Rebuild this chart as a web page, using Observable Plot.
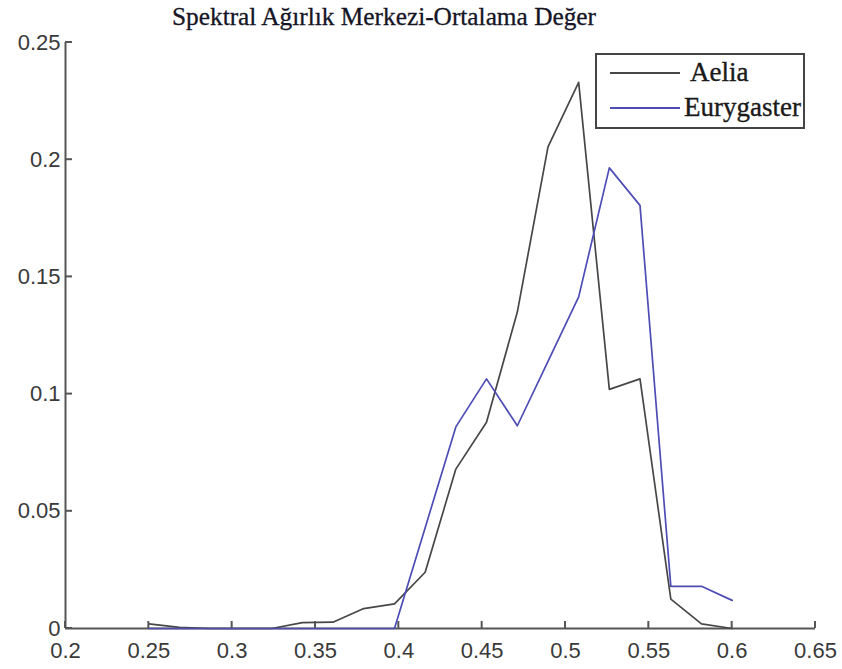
<!DOCTYPE html>
<html><head><meta charset="utf-8">
<script src="https://cdn.jsdelivr.net/npm/d3@7"></script>
<script src="https://cdn.jsdelivr.net/npm/@observablehq/plot@0.6"></script>
<style>body{margin:0;background:#fff} svg{display:block}</style>
</head><body><div id="chart"></div>
<script>
const title = "Spektral Ağırlık Merkezi-Ortalama Değer";
const seriesNames = ["Aelia", "Eurygaster"];
const seriesColors = ["#474747", "#4d4db5"];
const xValues = [0.25, 0.2684, 0.2868, 0.3053, 0.3237, 0.3421, 0.3605, 0.3789, 0.3974, 0.4158,
                 0.4342, 0.4526, 0.4711, 0.4895, 0.5079, 0.5263, 0.5447, 0.5632, 0.5816, 0.6];
const aeliaValues = [0.002, 0.0005, 0, 0, 0, 0.0025, 0.0027, 0.0085, 0.0105, 0.024,
                     0.068, 0.088, 0.135, 0.2055, 0.233, 0.102, 0.1065, 0.0125, 0.002, 0];
const eurygasterValues = [0, 0, 0, 0, 0, 0, 0, 0, 0, 0.043,
                          0.086, 0.1065, 0.0865, 0.114, 0.1415, 0.1965, 0.1805, 0.018, 0.018, 0.012];
const xTicks = [0.2, 0.25, 0.3, 0.35, 0.4, 0.45, 0.5, 0.55, 0.6, 0.65];
const xTickLabels = ["0.2", "0.25", "0.3", "0.35", "0.4", "0.45", "0.5", "0.55", "0.6", "0.65"];
const yTicks = [0, 0.05, 0.1, 0.15, 0.2, 0.25];
const yTickLabels = ["0", "0.05", "0.1", "0.15", "0.2", "0.25"];

const seriesValues = [aeliaValues, eurygasterValues];
const rows = [];
seriesNames.forEach((s, k) => xValues.forEach((x, i) => rows.push({x, y: seriesValues[k][i], s})));

const axisColor = "#555";
const chart = Plot.plot({
  width: 842, height: 669,
  marginLeft: 65, marginRight: 27, marginTop: 42, marginBottom: 41,
  style: {background: "#fff", fontFamily: "'Liberation Sans', Arial, sans-serif", fontSize: "22px", color: "#3a3a3a"},
  x: {domain: [0.2, 0.65]},
  y: {domain: [0, 0.25]},
  color: {domain: seriesNames, range: seriesColors},
  marks: [
    Plot.axisX({ticks: xTicks, tickFormat: d => xTickLabels[xTicks.indexOf(d)], tickSize: 0, tickPadding: 14, label: null}),
    Plot.axisY({ticks: yTicks, tickFormat: d => yTickLabels[yTicks.indexOf(d)], tickSize: 0, tickPadding: 5, label: null}),
    Plot.ruleY([0], {stroke: axisColor, strokeWidth: 2}),
    Plot.ruleX([0.2], {stroke: axisColor, strokeWidth: 2}),
    Plot.lineY(rows, {x: "x", y: "y", stroke: "s", z: "s", strokeWidth: 1.7})
  ]
});
document.getElementById("chart").append(chart);

const svg = d3.select(chart);
const sx = chart.scale("x"), sy = chart.scale("y");
const x0 = sx.apply(0.2), y0 = sy.apply(0);
const tickLen = 7;
const tg = svg.append("g").attr("stroke", axisColor).attr("stroke-width", 2);
xTicks.forEach(v => tg.append("line").attr("x1", sx.apply(v)).attr("x2", sx.apply(v)).attr("y1", y0).attr("y2", y0 - tickLen));
yTicks.forEach(v => tg.append("line").attr("x1", x0).attr("x2", x0 + tickLen).attr("y1", sy.apply(v)).attr("y2", sy.apply(v)));

svg.append("text").attr("x", 384).attr("y", 25).attr("text-anchor", "middle")
  .attr("font-family", "'Liberation Serif', 'Times New Roman', serif").attr("font-size", 25)
  .attr("fill", "#151525").attr("stroke", "#151525").attr("stroke-width", 0.3)
  .attr("textLength", 424).attr("lengthAdjust", "spacingAndGlyphs").text(title);

const lg = svg.append("g").attr("font-family", "'Liberation Serif', 'Times New Roman', serif").attr("font-size", 27)
  .attr("text-anchor", "start");
lg.append("rect").attr("x", 596).attr("y", 54).attr("width", 208).attr("height", 74)
  .attr("fill", "#fff").attr("stroke", "#444").attr("stroke-width", 2);
const legendY = [73, 108];
const legendTextX = [690, 684];
seriesNames.forEach((name, k) => {
  lg.append("line").attr("x1", 610).attr("x2", 680).attr("y1", legendY[k]).attr("y2", legendY[k])
    .attr("stroke", seriesColors[k]).attr("stroke-width", 2);
  lg.append("text").attr("x", legendTextX[k]).attr("y", legendY[k] + 8).attr("fill", "#1a1a1a")
    .attr("stroke", "#1a1a1a").attr("stroke-width", 0.35).text(name);
});
</script>
</body></html>
